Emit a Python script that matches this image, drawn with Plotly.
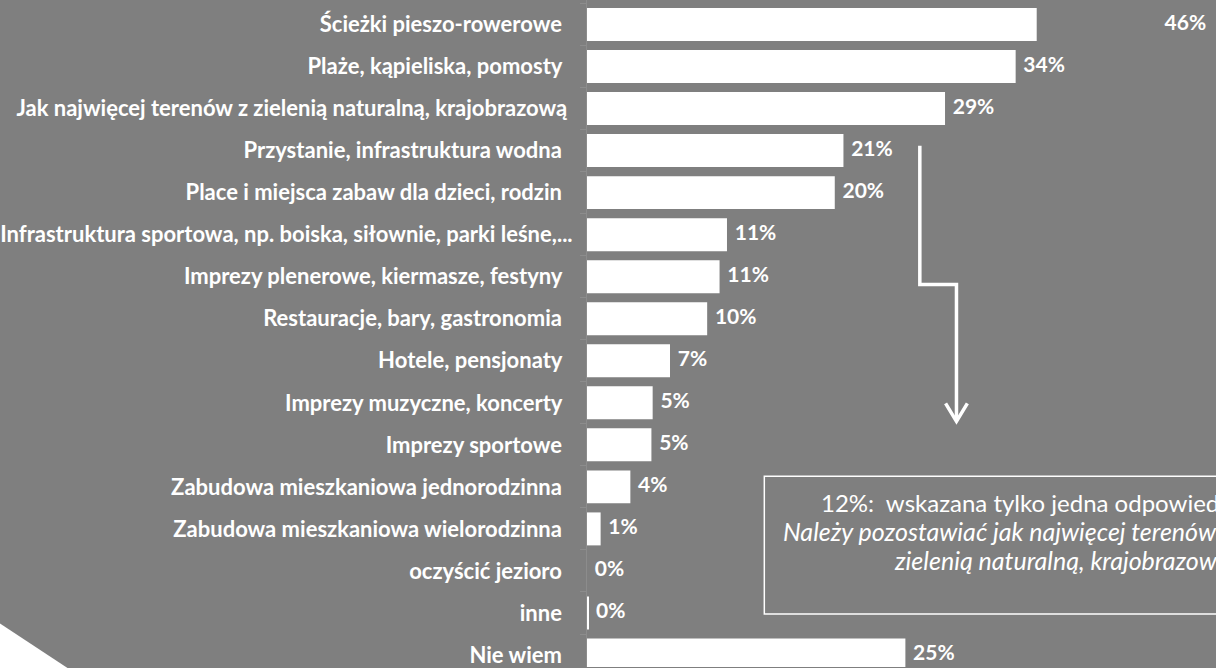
import plotly.graph_objects as go

NB = "\u00a0"
THIN = "\u2009"
categories = [
    "Ścieżki pieszo-rowerowe",
    "Plaże, kąpieliska, pomosty",
    "Jak najwięcej terenów z zielenią naturalną, krajobrazową",
    "Przystanie, infrastruktura wodna",
    "Place i miejsca zabaw dla dzieci, rodzin",
    "Infrastruktura sportowa, np. boiska, siłownie, parki leśne,...",
    "Imprezy plenerowe, kiermasze, festyny",
    "Restauracje, bary, gastronomia",
    "Hotele, pensjonaty",
    "Imprezy muzyczne, koncerty",
    "Imprezy sportowe",
    "Zabudowa mieszkaniowa jednorodzinna",
    "Zabudowa mieszkaniowa wielorodzinna",
    "oczyścić jezioro",
    "inne",
    "Nie wiem",
]
# bar lengths (percent)
values = [46.0, 34.6, 28.9, 20.7, 20.0, 11.3, 10.7, 9.7, 6.7, 5.3, 5.2, 3.5, 1.1, 0.0, 0.1, 25.7]
labels = ["46%", "34%", "29%", "21%", "20%", "11%", "11%", "10%", "7%", "5%", "5%", "4%", "1%", "0%", "0%", "25%"]
# trailing padding of the category labels (number of spaces), as in the reference
label_pad = [2, 2, 1, 2, 2, 0, 2, 2, 2, 2, 2, 2, 2, 2, 2, 2]

BG = "#7f7f7f"
FONT = "Lato"

W, H = 1216, 668
L = 581          # left edge of plot area (px)
R_BARS = 1035    # right edge of the bar area (px) - bars beyond are clipped
XMAX = 36.3      # axis maximum of the bar area
dom_bars = (R_BARS - L) / (W - L)
XMAX2 = XMAX / dom_bars

fig = go.Figure()
fig.add_trace(go.Bar(
    x=values, y=categories, orientation="h",
    marker=dict(color="white", line=dict(width=0)),
    hoverinfo="skip", xaxis="x", yaxis="y",
))
fig.add_trace(go.Scatter(
    x=values, y=categories, mode="text",
    text=[NB + THIN + t for t in labels],
    textposition="middle right",
    textfont=dict(family=FONT, size=21, color="white", weight="bold"),
    cliponaxis=False, hoverinfo="skip", showlegend=False,
    xaxis="x2", yaxis="y",
))


def px(x):
    return (x - L) / (W - L)


def py(y):
    return 1 - y / H


shapes = []
# arrow polyline
shapes.append(dict(
    type="path", xref="paper", yref="paper",
    path=f"M {px(917)} {py(146)} L {px(917)} {py(285)} L {px(954)} {py(285)} L {px(954)} {py(421)}",
    line=dict(color="white", width=3.5),
))
shapes.append(dict(
    type="path", xref="paper", yref="paper",
    path=f"M {px(943)} {py(404)} L {px(954)} {py(422)} L {px(965)} {py(404)}",
    line=dict(color="white", width=3.5),
))
# note box
shapes.append(dict(
    type="rect", xref="paper", yref="paper",
    x0=px(760), x1=px(1260), y0=py(615), y1=py(477),
    line=dict(color="white", width=1.5), fillcolor="rgba(0,0,0,0)",
))
# decorative white corner
shapes.append(dict(
    type="path", xref="paper", yref="paper",
    path=f"M {px(-30)} {py(612.4)} L {px(70)} {py(677.8)} L {px(-30)} {py(677.8)} Z",
    fillcolor="white", line=dict(width=0),
))

annotations = [
    dict(xref="paper", yref="paper", x=px(815), y=py(503), xanchor="left", yanchor="middle",
         text="12%:  wskazana tylko jedna odpowiedź", showarrow=False,
         font=dict(family=FONT, size=24, color="white")),
    dict(xref="paper", yref="paper", x=px(777), y=py(532), xanchor="left", yanchor="middle",
         text="<i>Należy pozostawiać jak najwięcej terenów z</i>", showarrow=False,
         font=dict(family=FONT, size=25, color="white")),
    dict(xref="paper", yref="paper", x=px(889), y=py(561), xanchor="left", yanchor="middle",
         text="<i>zielenią naturalną, krajobrazową</i>", showarrow=False,
         font=dict(family=FONT, size=25, color="white")),
]

fig.update_layout(
    width=W, height=H,
    margin=dict(l=L, r=0, t=0, b=0),
    paper_bgcolor=BG, plot_bgcolor="rgba(0,0,0,0)",
    showlegend=False,
    bargap=0.216,
    shapes=shapes,
    annotations=annotations,
    xaxis=dict(range=[0, XMAX], domain=[0, dom_bars], visible=False, fixedrange=True),
    xaxis2=dict(range=[0, XMAX2], domain=[0, 1], visible=False, fixedrange=True, anchor="y"),
    yaxis=dict(
        range=[15.285, -0.582], type="category",
        tickvals=categories,
        ticktext=[c + NB * p for c, p in zip(categories, label_pad)],
        showgrid=False, zeroline=False,
        showline=True, linecolor="#8c8c8c", linewidth=1,
        ticks="outside", tickson="boundaries", ticklen=6, tickcolor="#8c8c8c",
        tickfont=dict(family=FONT, size=22, color="white", weight="bold"),
        ticklabelstandoff=9, fixedrange=True,
    ),
)

fig.write_html(
    "out.html",
    config={"displayModeBar": False},
    post_script="document.body.style.margin='0';document.body.style.overflow='hidden';",
)
